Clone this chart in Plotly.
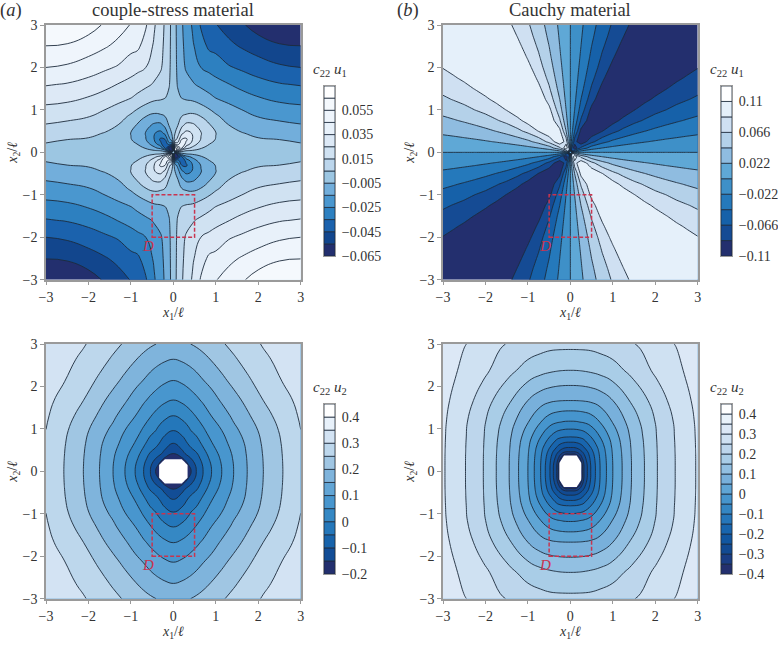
"""Couple-stress vs Cauchy displacement fields, four contour panels."""
import numpy as np
import plotly.graph_objects as go

N = None

# first-quadrant readings, rows run over x2 and columns over x1
U1_COUPLE_X = [0, .04, .1, .2, .3, .45, .65, .85, 1, 1.3, 1.6, 2, 2.5, 3]
U1_COUPLE_Y = [0, .04, .1, .2, .3, .45, .65, .85, 1, 1.3, 1.6, 2, 2.5, 3]
U1_COUPLE = [
    [0, 0, 0, 0, 0, 0, 0, 0, 0, 0, 0, 0, 0, 0],
    [0, .08, .04, .01, .0055, .004, .002, .001, .0005, .0002, -.0001, -.0005, -.0007, -.0009],
    [0, .07, .06, .035, .018, .0125, .0055, .0025, .0012, .0004, -.0003, -.0012, -.0017, -.0023],
    [0, .03, .028, .045, .032, .0205, .0105, .0052, .0028, .0008, -.0012, -.0026, -.0033, -.0045],
    [0, .012, .018, .036, .037, .025, .0145, .0078, .0046, .001, -.0025, -.0042, -.005, -.0068],
    [0, .005, .0105, .023, .028, .0245, .0155, .0095, .0052, -.0005, -.0045, -.0069, -.0084, -.0101],
    [0, .002, .004, .012, .017, .0165, .0115, .0055, .0025, -.005, -.0081, -.0112, -.013, -.0146],
    [0, .0005, .001, .005, .007, .0075, .0048, -.0008, -.0035, -.009, -.0119, -.0154, -.0175, -.019],
    [0, -.0004, -.001, .0005, .0005, .0018, -.0012, -.0045, -.0075, -.012, -.0148, -.0185, -.021, -.0223],
    [0, -.0015, -.0035, -.0055, -.0065, -.0078, -.0099, -.013, -.0156, -.018, -.0213, -.0248, -.0277, -.029],
    [0, -.0023, -.0055, -.0095, -.0115, -.014, -.017, -.0197, -.0216, -.0246, -.0279, -.0314, -.0343, -.0357],
    [0, -.0027, -.0065, -.012, -.016, -.019, -.025, -.0276, -.0295, -.034, -.0366, -.04, -.0434, -.045],
    [0, -.0029, -.007, -.013, -.018, -.0235, -.031, -.037, -.038, -.0425, -.0458, -.0497, -.054, -.0548],
    [0, -.003, -.0075, -.014, -.019, -.026, -.036, -.041, -.0445, -.049, -.0535, -.0596, -.0625, -.0645],
]

U1_CAUCHY_X = [0, .03, .1, .25, .5, .75, 1, 1.25, 1.5, 1.75, 2, 2.25, 2.5, 2.75, 3]
U1_CAUCHY_Y = [0, .03, .1, .25, .5, .75, 1, 1.25, 1.5, 1.75, 2, 2.25, 2.5, 2.75, 3]
U1_CAUCHY = [
    [0, 0, 0, 0, 0, 0, 0, 0, 0, 0, 0, 0, 0, 0, 0],
    [0, -.105, -.0463, -.0193, -.0096, -.0064, -.0048, -.0039, -.0032, -.0028, -.0024, -.0021, -.0019, -.0017, -.0016],
    [0, -.063, -.105, -.0601, -.0315, -.0214, -.0161, -.0128, -.0107, -.0092, -.008, -.0071, -.0064, -.0058, -.0054],
    [0, -.0264, -.0789, -.105, -.0719, -.0509, -.039, -.0315, -.0265, -.0229, -.0201, -.0178, -.0161, -.0146, -.0134],
    [0, -.0132, -.044, -.0941, -.105, -.0888, -.0719, -.0601, -.0509, -.0444, -.039, -.0348, -.0315, -.0287, -.0265],
    [0, -.0088, -.0293, -.0686, -.105, -.105, -.0959, -.0822, -.0719, -.064, -.0566, -.0509, -.0463, -.0424, -.039],
    [0, -.0066, -.022, -.0535, -.0941, -.105, -.105, -.1001, -.0888, -.0792, -.0719, -.0661, -.0601, -.0551, -.0509],
    [0, -.0053, -.0176, -.044, -.0789, -.105, -.105, -.105, -.103, -.0929, -.0847, -.0776, -.0719, -.0672, -.0624],
    [0, -.0044, -.0147, -.0367, -.0686, -.0941, -.105, -.105, -.105, -.105, -.0959, -.0888, -.0822, -.0765, -.0719],
    [0, -.0038, -.0126, -.0314, -.0603, -.0832, -.105, -.105, -.105, -.105, -.105, -.0983, -.0915, -.0859, -.0804],
    [0, -.0033, -.011, -.0275, -.0535, -.075, -.0941, -.105, -.105, -.105, -.105, -.105, -.1001, -.094, -.0888],
    [0, -.0029, -.0098, -.0244, -.0482, -.0686, -.0856, -.1026, -.105, -.105, -.105, -.105, -.105, -.1017, -.0959],
    [0, -.0026, -.0088, -.022, -.044, -.063, -.0789, -.0941, -.105, -.105, -.105, -.105, -.105, -.105, -.103],
    [0, -.0024, -.008, -.02, -.04, -.0578, -.0733, -.0872, -.1011, -.105, -.105, -.105, -.105, -.105, -.105],
    [0, -.0022, -.0073, -.0183, -.0367, -.0535, -.0686, -.0814, -.0941, -.105, -.105, -.105, -.105, -.105, -.105],
]

U2_COUPLE_X = [0, .2, .35, .42, .54, .7, .9, 1.14, 1.42, 1.74, 2.12, 2.58, 3]
U2_COUPLE_Y = [0, .15, .3, .42, .66, .96, 1.31, 1.68, 2.14, 2.64, 3]
U2_COUPLE = [
    [N, N, -.18, -.15, -.1, -.05, 0, .05, .1, .15, .2, .25, .2832],
    [N, N, -.153, -.127, -.0934, -.0453, .0034, .0521, .1008, .1506, .2005, .2503, .2843],
    [-.198, -.159, -.115, -.1, -.0735, -.0313, .0138, .0584, .1041, .1519, .2014, .251, .2861],
    [-.15, -.1144, -.0855, -.071, -.055, -.0183, .0234, .0658, .1075, .1538, .2028, .2519, .288],
    [-.1, -.0765, -.0466, -.0345, -.0218, .0099, .0468, .0815, .1182, .1588, .2066, .2544, .2925],
    [-.05, -.0334, -.0114, .0006, .0155, .0416, .0718, .0995, .1373, .1702, .2151, .2601, .2995],
    [0, .0123, .0285, .0375, .0532, .073, .101, .1274, .1599, .1923, .2317, .2712, .306],
    [.05, .0594, .0718, .0786, .09, .1078, .1298, .1564, .1826, .2136, .2507, .2842, .3136],
    [.1, .1074, .1172, .1225, .1328, .1484, .1657, .1886, .214, .2425, .27, .3023, .3244],
    [.15, .1556, .1631, .1672, .1754, .1873, .2029, .2218, .2442, .2652, .2903, .3155, .3373],
    [.1838, .1894, .1968, .2007, .2066, .2156, .2282, .2454, .2619, .281, .304, .3259, .347],
]

U2_CAUCHY_X = [0, .15, .27, .32, .48, .7, 1, 1.44, 2.05, 2.47, 3]
U2_CAUCHY_Y = [0, .2, .39, .47, .57, .81, 1.16, 1.67, 2.38, 2.875, 3]
U2_CAUCHY = [
    [N, N, -.365, -.3, -.2, -.1, 0, .1, .2, .25, .3048],
    [N, N, -.352, -.292, -.1966, -.0987, .0006, .1, .2, .25, .3048],
    [-.365, -.352, -.278, -.2554, -.1808, -.0925, .0032, .1013, .2004, .2502, .3049],
    [-.2914, -.2826, -.2505, -.2338, -.1688, -.0878, .0051, .1021, .2007, .2505, .3051],
    [-.2462, -.2398, -.2166, -.2001, -.1492, -.0799, .0084, .1035, .2012, .2508, .3053],
    [-.1507, -.1481, -.1396, -.1335, -.1018, -.0498, .0211, .1086, .203, .2521, .306],
    [-.0545, -.053, -.0484, -.0459, -.0326, .0008, .0521, .122, .2076, .255, .3079],
    [.0505, .0508, .0521, .0531, .0578, .0702, .1, .156, .225, .27, .3124],
    [.15, .1505, .152, .153, .157, .165, .18, .213, .262, .288, .322],
    [.2004, .2006, .201, .2013, .203, .209, .219, .238, .272, .297, .3341],
    [.2099, .21, .211, .2115, .2135, .219, .225, .245, .28, .3011, .3375],
]

# band colours of each colour bar, lowest band first
COLORS_U1_COUPLE = ["#232f6e", "#12468d", "#1b62ad", "#2d80c0", "#4a97cf", "#72aedb", "#9cc6e2",
                    "#bcd6ec", "#d0e2f2", "#dde9f6", "#e8f1fa", "#eff5fc", "#f5f9fd", "#ffffff"]
COLORS_U1_CAUCHY = ["#232f6e", "#154b94", "#1661a9", "#2579bb", "#3e90c8", "#5fa8d6",
                    "#8fbce0", "#b4d1e9", "#cfe0f2", "#e5f0fa", "#ffffff"]
COLORS_U2_COUPLE = ["#232f6e", "#124d96", "#1763ab", "#2477ba", "#3588c4", "#4896ce", "#62a5d5",
                    "#7fb4dc", "#a0c6e3", "#bdd7ec", "#d3e3f3", "#e8f1fa", "#ffffff"]
COLORS_U2_CAUCHY = ["#232f6e", "#1a3d84", "#124a92", "#1156a0", "#1865ae", "#2576ba", "#3486c3",
                    "#4695cd", "#5fa5d5", "#78b0db", "#92c0e2", "#a9cde7", "#bdd6ec", "#cfe1f2",
                    "#dce8f6", "#e9f2fa", "#ffffff"]

TICKS_U1_COUPLE = [-.065, -.045, -.025, -.005, .015, .035, .055]
TICKS_U1_CAUCHY = [-.11, -.066, -.022, .022, .066, .11]
TICKS_U2_COUPLE = [-.2, -.1, 0, .1, .2, .3, .4]
TICKS_U2_CAUCHY = [-.4, -.3, -.2, -.1, 0, .1, .2, .3, .4]

AXIS_TICKS = [-3, -2, -1, 0, 1, 2, 3]
BOX_X = [-.5, .5]
BOX_Y = [-2, -1]
BOX_LABEL = [-.6, -2.2]

W, H = 778, 647
PLOT = 254.7
BAR_W, BAR_H = 11, 170
SERIF = "Liberation Serif"
INK = "#333333"
RED = "#c8344f"
GREY = "#9a9a9a"
LINE = "#1d2b3c"


def full_grid(x, y, q, odd):
    """Unfold a first-quadrant table to the whole square."""
    q = np.array(q, dtype=float)
    s = -1.0 if odd else 1.0
    upper = np.hstack([s * q[:, :0:-1], q])
    z = np.vstack([s * upper[:0:-1, :], upper])
    xs = [-v for v in x[:0:-1]] + x
    ys = [-v for v in y[:0:-1]] + y
    z = [[None if np.isnan(v) else float(v) for v in row] for row in z]
    return xs, ys, z


fig = go.Figure()

panels = [
    (46, 25, 324, 86, U1_COUPLE_X, U1_COUPLE_Y, U1_COUPLE, True, -.065, .01,
     COLORS_U1_COUPLE, TICKS_U1_COUPLE, "{:.3f}", "1", 1.3),
    (443, 25, 721, 86, U1_CAUCHY_X, U1_CAUCHY_Y, U1_CAUCHY, True, -.11, .022,
     COLORS_U1_CAUCHY, TICKS_U1_CAUCHY, "{:g}", "1", 0),
    (46, 344, 324, 404, U2_COUPLE_X, U2_COUPLE_Y, U2_COUPLE, False, -.2, .05,
     COLORS_U2_COUPLE, TICKS_U2_COUPLE, "{:g}", "2", 1.3),
    (443, 344, 721, 404, U2_CAUCHY_X, U2_CAUCHY_Y, U2_CAUCHY, False, -.4, .05,
     COLORS_U2_CAUCHY, TICKS_U2_CAUCHY, "{:g}", "2", 1.3),
]

layout_axes = {}
annotations = []
shapes = []
label_font = dict(family=SERIF, size=14, color=INK)

for i, (left, top, bar_x, bar_top, x, y, q, odd, low, size, colors, ticks, fmt, comp, smooth) in enumerate(panels):
    suffix = "" if i == 0 else str(i + 1)
    bar_suffix = str(i + 5)
    xs, ys, z = full_grid(x, y, q, odd)
    n_bands = len(colors)
    fig.add_trace(go.Contour(
        x=xs, y=ys, z=z,
        xaxis="x" + suffix, yaxis="y" + suffix,
        autocontour=False,
        contours=dict(start=low + size, end=low + size * (n_bands - 1), size=size,
                      coloring="fill", showlines=True),
        line=dict(color=LINE, width=0.9, smoothing=smooth),
        colorscale=[[k / (n_bands - 1), c] for k, c in enumerate(colors)],
        showscale=False,
        hoverinfo="skip",
    ))
    # colour bar as a stack of one-band bars
    fig.add_trace(go.Bar(
        x=[0.5] * n_bands, y=[size] * n_bands,
        base=[low + k * size for k in range(n_bands)],
        width=1, xaxis="x" + bar_suffix, yaxis="y" + bar_suffix,
        marker=dict(color=colors, line=dict(color=LINE, width=0.8)),
        hoverinfo="skip",
    ))
    layout_axes["xaxis" + bar_suffix] = dict(
        domain=[bar_x / W, (bar_x + BAR_W) / W], range=[0, 1], anchor="y" + bar_suffix,
        showticklabels=False, ticks="", showgrid=False, zeroline=False,
        showline=True, mirror=True, linecolor=GREY, linewidth=1,
    )
    layout_axes["yaxis" + bar_suffix] = dict(
        domain=[1 - (bar_top + BAR_H) / H, 1 - bar_top / H],
        range=[low, low + size * n_bands], anchor="x" + bar_suffix, side="right",
        tickmode="array", tickvals=ticks,
        ticktext=[fmt.format(t).replace("-", "\u2212") for t in ticks],
        ticks="outside", ticklen=3, tickcolor="rgba(0,0,0,0)",
        tickfont=label_font, showgrid=False, zeroline=False,
        showline=True, mirror=True, linecolor=GREY, linewidth=1,
    )
    axis = dict(
        range=[-3, 3], tickmode="array", tickvals=AXIS_TICKS,
        ticks="outside", ticklen=4, tickcolor=GREY, tickwidth=1,
        showline=True, mirror=True, linecolor=GREY, linewidth=1.5,
        showgrid=False, zeroline=False, tickfont=label_font,
    )
    layout_axes["xaxis" + suffix] = dict(
        axis, domain=[left / W, (left + PLOT) / W], anchor="y" + suffix,
        title=dict(text="<i>x</i><sub>1</sub>/<i>\u2113</i>", standoff=2, font=label_font),
    )
    layout_axes["yaxis" + suffix] = dict(
        axis, domain=[1 - (top + PLOT) / H, 1 - top / H], anchor="x" + suffix,
        title=dict(text="<i>x</i><sub>2</sub>/<i>\u2113</i>", standoff=2, font=label_font),
    )
    shapes.append(dict(
        type="rect", xref="x" + suffix, yref="y" + suffix,
        x0=BOX_X[0], x1=BOX_X[1], y0=BOX_Y[0], y1=BOX_Y[1],
        line=dict(color=RED, width=1.5, dash="4px,2px"),
    ))
    annotations.append(dict(
        x=BOX_LABEL[0], y=BOX_LABEL[1], xref="x" + suffix, yref="y" + suffix,
        text="<i>D</i>", showarrow=False, font=dict(family=SERIF, size=15, color=RED),
    ))
    annotations.append(dict(
        x=(bar_x + 6) / W, y=1 - (bar_top - 16) / H, xref="paper", yref="paper",
        xanchor="center", yanchor="middle",
        text=f"<i>c</i><sub>22</sub> <i>u</i><sub>{comp}</sub>", showarrow=False,
        font=dict(family=SERIF, size=15, color=INK),
    ))

for text, cx in [
    ("couple-stress material", 173),
    ("Cauchy material", 570),
    ("(<i>a</i>)", 11),
    ("(<i>b</i>)", 407.5),
]:
    annotations.append(dict(
        x=cx / W, y=1 - 10 / H, xref="paper", yref="paper", xanchor="center", yanchor="middle",
        text=text, showarrow=False, font=dict(family=SERIF, size=18.5, color=INK),
    ))

fig.update_layout(
    width=W, height=H,
    margin=dict(l=0, r=0, t=0, b=0, autoexpand=False),
    paper_bgcolor="white", plot_bgcolor="white",
    showlegend=False, barmode="overlay",
    shapes=shapes, annotations=annotations,
    **layout_axes,
)

fig.write_html("out.html", config={"displayModeBar": False},
               post_script="document.body.style.margin='0';")
